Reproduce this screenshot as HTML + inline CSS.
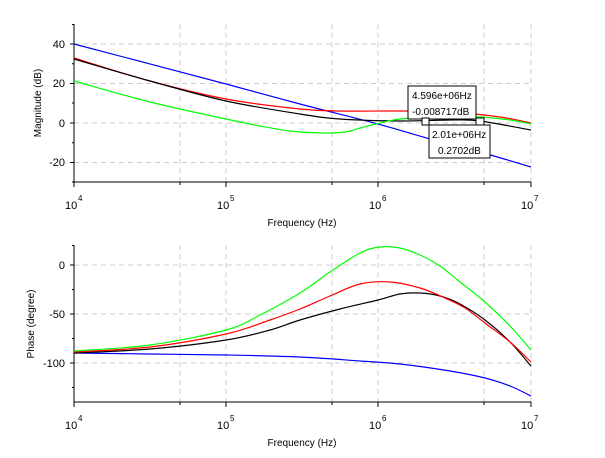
<!DOCTYPE html><html><head><style>body{margin:0;background:#fff}svg{display:block}text{font-family:"Liberation Sans",sans-serif;fill:#000}</style></head><body>
<svg width="605" height="458" viewBox="0 0 605 458">
<g stroke="#ccc" stroke-dasharray="5,4" stroke-width="1" fill="none">
<path d="M74,44H531M74,83.5H531M74,123H531M74,162.5H531M180,24V182M226,24V182M332,24V182M378,24V182M484,24V182M531,24V182"/>
<path d="M74,265H531M74,314H531M74,363H531M180,245V402M226,245V402M332,245V402M378,245V402M484,245V402M531,245V402"/>
</g>
<g stroke="#000" stroke-width="1" fill="none">
<path d="M74,24V182H531M70,44H74M70,83.5H74M70,123H74M70,162.5H74M72,63.7H74M72,103H74M72,142.7H74M72,24.5H74M72,182H74M74,182V187M226,182V187M378,182V187M531,182V187M180,182V185M332,182V185M484,182V185"/>
<path d="M74,245V402H531M70,265H74M70,314H74M70,363H74M72,289.5H74M72,338.5H74M72,387.5H74M72,245.5H74M74,402V407M226,402V407M378,402V407M531,402V407M180,402V405M332,402V405M484,402V405"/>
</g>
<g fill="none" stroke-width="1.2" id="curves">
<polyline stroke="#00f" points="74,44 226,84 300,104 378,124 430,139 480,152 531,167"/>
<polyline stroke="#f00" points="74,58 150,81 226,99 300,109 340,111 400,111 450,112 500,117 531,123"/>
<polyline stroke="#000" points="74,59 150,81 226,101 300,114 340,119 400,121 450,120 480,121 531,130"/>
<polyline stroke="#0f0" points="74,81 150,102 226,119 260,126 290,131 320,133 345,132 360,128 380,123 400,119 440,116 480,117 510,120 531,124"/>
<polyline stroke="#00f" points="74,353 150,354 226,355 300,357 360,361 400,364 450,371 485,378 510,386 531,396"/>
<polyline stroke="#000" points="74,353 150,349 226,340 270,330 300,320 340,309 378,300 400,294 420,293 440,296 460,304 485,320 510,342 531,366"/>
<polyline stroke="#f00" points="74,352 150,347 226,334 270,320 300,309 330,296 360,284 390,282 420,288 445,298 465,308 485,323 510,342 531,362"/>
<polyline stroke="#0f0" points="74,351 150,345 226,330 260,315 300,293 330,272 360,253 380,247 400,248 420,255 440,266 460,282 485,302 510,326 531,350"/>
</g>
<g stroke="#000" fill="#fff">
<rect x="408" y="86" width="68" height="33"/>
<rect x="429" y="125" width="61" height="33"/>
<rect x="422" y="118" width="7" height="7"/>
<rect x="476" y="118" width="8" height="7"/>
</g>
<g font-size="10">
<text x="412" y="99">4.596e+06Hz</text>
<text x="412" y="115">-0.008717dB</text>
<text x="432" y="138">2.01e+06Hz</text>
<text x="438" y="154">0.2702dB</text>
</g>
<g font-size="11" text-anchor="end">
<text x="65" y="48">40</text><text x="65" y="87">20</text><text x="65" y="127">0</text><text x="65" y="166">-20</text>
<text x="65" y="269">0</text><text x="65" y="318">-50</text><text x="65" y="367">-100</text>
</g>
<g font-size="11">
<text x="65" y="209">10</text><text x="78" y="201" font-size="8">4</text>
<text x="217" y="209">10</text><text x="230" y="201" font-size="8">5</text>
<text x="369" y="209">10</text><text x="382" y="201" font-size="8">6</text>
<text x="521" y="209">10</text><text x="534" y="201" font-size="8">7</text>
<text x="65" y="429">10</text><text x="78" y="421" font-size="8">4</text>
<text x="217" y="429">10</text><text x="230" y="421" font-size="8">5</text>
<text x="369" y="429">10</text><text x="382" y="421" font-size="8">6</text>
<text x="521" y="429">10</text><text x="534" y="421" font-size="8">7</text>
</g>
<g font-size="10" text-anchor="middle">
<text x="302" y="226">Frequency (Hz)</text>
<text x="302" y="446">Frequency (Hz)</text>
<text transform="translate(41,103) rotate(-90)">Magnitude (dB)</text>
<text transform="translate(34,324) rotate(-90)">Phase (degree)</text>
</g>
</svg>
<script>
document.querySelectorAll('#curves polyline').forEach(function(pl){
 var p=pl.getAttribute('points').trim().split(/\s+/).map(function(s){return s.split(',').map(Number);});
 var d='M'+p[0][0]+','+p[0][1];
 for(var i=0;i<p.length-1;i++){
  var p0=p[i-1]||p[i],p1=p[i],p2=p[i+1],p3=p[i+2]||p2;
  var c1=[p1[0]+(p2[0]-p0[0])/6,p1[1]+(p2[1]-p0[1])/6],c2=[p2[0]-(p3[0]-p1[0])/6,p2[1]-(p3[1]-p1[1])/6];
  d+=' C'+c1[0]+','+c1[1]+' '+c2[0]+','+c2[1]+' '+p2[0]+','+p2[1];
 }
 var path=document.createElementNS('http://www.w3.org/2000/svg','path');
 path.setAttribute('d',d);path.setAttribute('stroke',pl.getAttribute('stroke'));
 pl.parentNode.replaceChild(path,pl);
});
</script>
</body></html>
